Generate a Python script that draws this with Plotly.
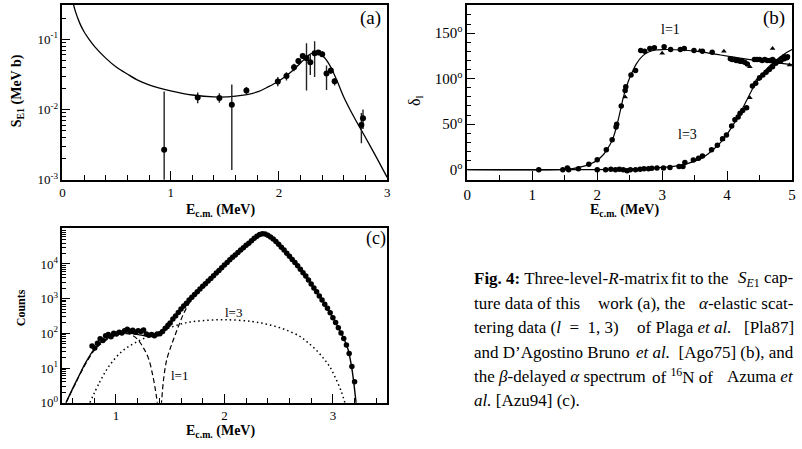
import plotly.graph_objects as go

W, H = 802, 449
FONT = "Liberation Serif, Times New Roman, serif"

# ---------------- panel (a): S_E1 capture data ----------------
a_x = [0.94, 1.25, 1.45, 1.565, 1.70, 1.99, 2.07, 2.14, 2.18, 2.22, 2.255, 2.29,
       2.33, 2.365, 2.40, 2.44, 2.48, 2.515, 2.762, 2.777]
a_y = [0.00267, 0.0148, 0.0146, 0.0117, 0.0186, 0.0251, 0.030, 0.040, 0.049, 0.058,
       0.0536, 0.047, 0.0635, 0.065, 0.0615, 0.0325, 0.036, 0.0253, 0.0060, 0.0075]
a_hi = [0.018, 0.0175, 0.017, 0.0227, 0.021, 0.029, 0.034, 0.045, 0.054, 0.063,
        0.088, 0.062, 0.094, 0.070, 0.067, 0.0423, 0.040, 0.028, 0.0089, 0.010]
a_lo = [0.0007, 0.0123, 0.0125, 0.00138, 0.0165, 0.0215, 0.026, 0.035, 0.044, 0.053,
        0.0186, 0.031, 0.029, 0.060, 0.056, 0.019, 0.032, 0.022, 0.0033, 0.0053]
a_fit_x = [0.09, 0.12, 0.16, 0.20, 0.25, 0.30, 0.40, 0.50, 0.60, 0.70, 0.80, 1.00, 1.20,
           1.40, 1.60, 1.80, 1.90, 2.00, 2.10, 2.20, 2.28, 2.35, 2.42, 2.48, 2.54, 2.60,
           2.70, 2.80, 2.90, 3.00]
a_fit_y = [0.37, 0.25, 0.17, 0.128, 0.098, 0.078, 0.054, 0.040, 0.032, 0.026, 0.0225,
           0.0185, 0.0161, 0.0151, 0.0155, 0.0178, 0.021, 0.0255, 0.033, 0.046, 0.060,
           0.066, 0.055, 0.040, 0.025, 0.0150, 0.0075, 0.0040, 0.0021, 0.00108]

# ---------------- panel (b): phase shifts ----------------
b1_x = [1.10, 1.47, 1.54, 1.56, 1.71, 1.87, 2.00, 2.14, 2.23, 2.29, 2.30, 2.37, 2.43,
        2.44, 2.52, 2.59, 2.67, 2.73, 2.81, 2.88, 3.03, 3.13, 3.28, 3.34, 3.49, 3.62,
        3.77, 4.05, 4.08, 4.11, 4.14, 4.17, 4.20, 4.23, 4.27, 4.31, 4.42, 4.46, 4.50,
        4.54, 4.58, 4.62, 4.66, 4.70, 4.73, 4.80, 4.84, 4.88, 4.92]
b1_y = [0, 0, 2, 0, 1, 6, 11, 22, 33, 47, 50, 70, 87, 91, 104, 109, 131, 130, 133,
        134, 135, 132, 132, 133, 131, 130, 129, 122, 121, 121, 120, 120, 119, 119, 118,
        116, 121, 121, 121, 120, 121, 120, 120, 121, 119, 119, 122, 124, 123]
b1t_x = [2.43, 3.00, 3.58, 3.95, 4.35, 4.70, 4.96]
b1t_y = [80, 128, 131, 130, 113, 133, 115]
b3_x = [2.00, 2.13, 2.21, 2.28, 2.34, 2.40, 2.46, 2.51, 2.59, 2.66, 2.72, 2.79, 2.84,
        2.92, 3.02, 3.12, 3.26, 3.32, 3.35, 3.48, 3.56, 3.62, 3.76, 3.85, 3.93, 3.99,
        4.07, 4.12, 4.17, 4.20, 4.24, 4.30, 4.39, 4.44, 4.50, 4.55, 4.60, 4.65, 4.70,
        4.75, 4.83, 4.88, 4.93]
b3_y = [0, 0, 0.5, 0, 0.5, 0, -1, 0, 0, 0.5, 1, 1, 1.5, 2, 2, 2.5, 3.6, 3.6, 8, 10.8,
        12.6, 15, 22, 27, 34, 38, 48, 55, 58, 62, 65, 68, 92, 95, 101, 104, 107, 110,
        113, 117, 120, 122, 124]
b3t_x = [3.93, 4.35, 4.47]
b3t_y = [33, 79, 99]
b1_fit_x = [0, 1.4, 1.6, 1.8, 1.9, 2.0, 2.1, 2.2, 2.25, 2.3, 2.35, 2.4, 2.45, 2.5, 2.55,
            2.6, 2.7, 2.8, 2.9, 3.0, 3.3, 3.6, 3.9, 4.2, 4.5, 4.8, 5.0]
b1_fit_y = [0, 0, 1, 4, 6.5, 10.5, 17, 28, 36, 48, 63, 79, 91, 101, 109, 116, 125,
            129.5, 131.5, 132, 131.5, 129.5, 126, 122.5, 119.5, 117, 115.5]
b3_fit_x = [0, 1.5, 2.0, 2.5, 2.8, 3.0, 3.2, 3.4, 3.6, 3.7, 3.8, 3.9, 4.0, 4.1, 4.2,
            4.3, 4.4, 4.5, 4.6, 4.7, 4.8, 4.9, 5.0]
b3_fit_y = [0, 0, 0.2, 0.8, 1.5, 2.5, 4, 7, 12.5, 17, 23, 30, 39, 50, 62, 76, 90, 101,
            110, 117, 123, 128, 132]

# ---------------- panel (c): beta-delayed alpha spectrum ----------------
c_x = [0.780, 0.805, 0.830, 0.855, 0.880, 0.905, 0.930, 0.955, 0.980, 1.005, 1.030,
       1.055, 1.080, 1.105, 1.130, 1.155, 1.180, 1.205, 1.230, 1.255, 1.280, 1.305,
       1.330, 1.355, 1.380, 1.405, 1.430, 1.455, 1.480,
       1.500, 1.525, 1.550, 1.575, 1.600, 1.625, 1.650, 1.675, 1.700, 1.725, 1.750,
       1.775, 1.800, 1.825, 1.850, 1.875, 1.900, 1.925, 1.950, 1.975, 2.000, 2.025,
       2.050, 2.075, 2.100, 2.125, 2.150, 2.175, 2.200, 2.225, 2.250, 2.275, 2.300,
       2.325, 2.350, 2.375, 2.400, 2.425, 2.450, 2.475, 2.500, 2.525, 2.550, 2.575,
       2.600, 2.625, 2.650, 2.675, 2.700, 2.725, 2.750, 2.775, 2.800, 2.825, 2.850,
       2.875, 2.900, 2.925, 2.950, 2.975, 3.000, 3.025, 3.050, 3.075, 3.100, 3.125,
       3.150, 3.175, 3.200]
c_y = [43, 38, 52, 70, 62, 85, 92, 80, 100, 95, 108, 102, 118, 132, 115, 122, 108, 118,
       112, 125, 95, 88, 92, 85, 95, 98, 112, 140, 170,
       200, 257, 316, 400, 500, 617, 741, 912, 1100, 1320, 1580, 1900, 2290, 2690, 3240,
       3800, 4570, 5500, 6460, 7760, 9330, 11000, 13200, 15500, 18200, 21400, 25100,
       29500, 34700, 39800, 46800, 55000, 63100, 70800, 74100, 73300, 67600, 60300,
       52500, 44700, 37200, 30200, 25100, 20400, 16600, 13500, 11000, 8910, 7080, 5620,
       4470, 3470, 2630, 2040, 1580, 1200, 912, 692, 525, 389, 282, 204, 145, 102, 71,
       46, 26, 11, 4]
c_fit_x = [0.54, 0.60, 0.66, 0.72, 0.80, 0.88, 0.97, 1.09, 1.18, 1.30, 1.40, 1.46, 1.50,
           1.55, 1.60, 1.69, 1.79, 1.90, 2.00, 2.10, 2.20, 2.28, 2.34, 2.38, 2.42, 2.50,
           2.60, 2.70, 2.80, 2.90, 3.00, 3.05, 3.10, 3.14, 3.17, 3.19, 3.215]
c_fit_y = [1, 2.5, 6, 14, 35, 60, 85, 103, 95, 83, 90, 135, 190, 310, 500, 1000, 2100,
           4700, 9300, 18200, 34700, 57500, 72400, 72400, 61700, 37200, 16600, 7080,
           2630, 912, 282, 145, 71, 34, 12, 4.5, 0.9]
c_l1a_x = [0.54, 0.60, 0.66, 0.72, 0.80, 0.88, 0.97, 1.05, 1.10, 1.15, 1.20, 1.25, 1.30,
           1.34, 1.37, 1.39]
c_l1a_y = [1, 2.4, 5.8, 13, 32, 55, 80, 96, 98, 88, 67, 40, 19, 6, 1.8, 0.6]
c_l1b_x = [1.41, 1.42, 1.44, 1.47, 1.52, 1.565, 1.626, 1.70]
c_l1b_y = [0.5, 1, 4.9, 18, 54, 128, 380, 1000]
c_l3_x = [0.76, 0.85, 0.94, 1.06, 1.18, 1.34, 1.49, 1.64, 1.79, 2.0, 2.25, 2.4, 2.56,
          2.7, 2.77, 2.85, 2.92, 2.97, 3.02, 3.08, 3.11]
c_l3_y = [1, 3.9, 11.7, 31, 54, 92, 143, 200, 230, 246, 220, 180, 128, 80, 54, 32, 18,
          11, 5.5, 2, 1]

# ---------------- figure ----------------
fig = go.Figure()
blk = "black"

plus = [h - v for h, v in zip(a_hi, a_y)]
minus = [v - l for v, l in zip(a_y, a_lo)]
fig.add_trace(go.Scatter(x=a_fit_x, y=a_fit_y, mode="lines",
                         line=dict(color=blk, width=1.3, shape="spline", smoothing=0.8),
                         xaxis="x", yaxis="y"))
fig.add_trace(go.Scatter(x=a_x, y=a_y, mode="markers",
                         marker=dict(color=blk, size=6),
                         error_y=dict(type="data", symmetric=False, array=plus,
                                      arrayminus=minus, width=0, thickness=1.4,
                                      color="#222"),
                         xaxis="x", yaxis="y"))

for fx, fy in [(b1_fit_x, b1_fit_y), (b3_fit_x, b3_fit_y)]:
    fig.add_trace(go.Scatter(x=fx, y=fy, mode="lines",
                             line=dict(color=blk, width=1.2, shape="spline", smoothing=0.7),
                             xaxis="x2", yaxis="y2"))
for bx, by in [(b1_x, b1_y), (b3_x, b3_y)]:
    fig.add_trace(go.Scatter(x=bx, y=by, mode="markers",
                             marker=dict(color=blk, size=5.5),
                             xaxis="x2", yaxis="y2"))
for bx, by in [(b1t_x, b1t_y), (b3t_x, b3t_y)]:
    fig.add_trace(go.Scatter(x=bx, y=by, mode="markers",
                             marker=dict(color=blk, size=5, symbol="triangle-up"),
                             xaxis="x2", yaxis="y2"))

fig.add_trace(go.Scatter(x=c_l3_x, y=c_l3_y, mode="lines",
                         line=dict(color=blk, width=1.5, dash="1.5px,3px", shape="spline"),
                         xaxis="x3", yaxis="y3"))
for lx, ly in [(c_l1a_x, c_l1a_y), (c_l1b_x, c_l1b_y)]:
    fig.add_trace(go.Scatter(x=lx, y=ly, mode="lines",
                             line=dict(color=blk, width=1.2, dash="5px,3px", shape="spline"),
                             xaxis="x3", yaxis="y3"))
fig.add_trace(go.Scatter(x=c_fit_x, y=c_fit_y, mode="lines",
                         line=dict(color=blk, width=1.4, shape="spline", smoothing=0.8),
                         xaxis="x3", yaxis="y3"))
fig.add_trace(go.Scatter(x=c_x, y=c_y, mode="markers",
                         marker=dict(color=blk, size=5.5),
                         xaxis="x3", yaxis="y3"))


def dx(p):
    return p / W


def dy(p):
    return 1 - p / H


def ax(**kw):
    base = dict(showline=True, linecolor=blk, linewidth=1.6, mirror=True,
                ticks="inside", tickcolor=blk, tickwidth=1.2, showgrid=False,
                zeroline=False, tickfont=dict(family=FONT, size=13, color=blk))
    base.update(kw)
    return base


a_minor = [m * 10.0 ** e for e in (-3, -2, -1) for m in range(2, 10)]
c_minor = [m * 10.0 ** e for e in (0, 1, 2, 3, 4) for m in range(2, 10)]

fig.update_layout(
    width=W, height=H, margin=dict(l=0, r=0, t=0, b=0),
    paper_bgcolor="white", plot_bgcolor="white", showlegend=False,
    font=dict(family=FONT, color=blk),
    xaxis=ax(domain=[dx(59), dx(387)], anchor="y", range=[0, 3], dtick=1, ticklen=9,
             minor=dict(ticks="inside", dtick=0.2, ticklen=5, tickcolor=blk, tickwidth=1.2)),
    yaxis=ax(domain=[dy(183), dy(5)], anchor="x", type="log", range=[-3, -0.51],
             tickmode="array", tickvals=[0.001, 0.01, 0.1],
             ticktext=["10<sup>-3</sup>", "10<sup>-2</sup>", "10<sup>-1</sup>"], ticklen=8,
             minor=dict(ticks="inside", tickmode="array", tickvals=a_minor, ticklen=4,
                        tickcolor=blk, tickwidth=1)),
    xaxis2=ax(domain=[dx(468), dx(796)], anchor="y2", range=[0, 5], dtick=1, ticklen=9,
              tickfont=dict(family=FONT, size=15, color=blk),
              minor=dict(ticks="inside", dtick=0.5, ticklen=5, tickcolor=blk, tickwidth=1.2)),
    yaxis2=ax(domain=[dy(183), dy(5)], anchor="x2", range=[-11, 181],
              tickmode="array", tickvals=[0, 50, 100, 150],
              ticktext=["0<sup>o</sup>", "50<sup>o</sup>", "100<sup>o</sup>", "150<sup>o</sup>"],
              tickfont=dict(family=FONT, size=15, color=blk), ticklen=8,
              minor=dict(ticks="inside", dtick=10, ticklen=4, tickcolor=blk, tickwidth=1)),
    xaxis3=ax(domain=[dx(59), dx(387)], anchor="y3", range=[0.507, 3.5], dtick=1, tick0=0,
              ticklen=9,
              minor=dict(ticks="inside", dtick=0.2, tick0=0, ticklen=5, tickcolor=blk,
                         tickwidth=1.2)),
    yaxis3=ax(domain=[dy(410), dy(232)], anchor="x3", type="log", range=[0, 5.04],
              tickmode="array", tickvals=[1, 10, 100, 1000, 10000],
              ticktext=["10<sup>0</sup>", "10<sup>1</sup>", "10<sup>2</sup>",
                        "10<sup>3</sup>", "10<sup>4</sup>"], ticklen=8,
              minor=dict(ticks="inside", tickmode="array", tickvals=c_minor, ticklen=4,
                         tickcolor=blk, tickwidth=1)),
)

ann = []


def txt(x, y, t, size=14, angle=0, xanchor="center", yanchor="middle"):
    ann.append(dict(x=dx(x), y=dy(y), xref="paper", yref="paper", text=t,
                    showarrow=False, textangle=angle, xanchor=xanchor, yanchor=yanchor,
                    font=dict(family=FONT, size=size, color=blk)))


# axis titles
txt(219, 214, "<b>E<sub>c.m.</sub> (MeV)</b>", 14)
txt(14, 92, "<b>S<sub>E1</sub> (MeV b)</b>", 14, angle=-90)
txt(627, 214, "<b>E<sub>c.m.</sub> (MeV)</b>", 14)
txt(415, 102, "δ<sub>l</sub>", 16, angle=-90)
txt(219, 439, "<b>E<sub>c.m.</sub> (MeV)</b>", 14)
txt(18, 313, "<b>Counts</b>", 12, angle=-90)
# panel tags
txt(370, 18, "(a)", 19)
txt(778, 18, "(b)", 19)
txt(376, 243, "(c)", 18)
# curve labels
txt(673, 30, "l=1", 14)
txt(690, 137, "l=3", 14)
txt(232, 318, "l=3", 13)
txt(177, 382, "l=1", 13)

# caption, justified by hand: (left chunk, middle chunk, middle centre px, right chunk)
cap = [
    ("<b>Fig. 4:</b> Three-level-<i>R</i>-matrix", "fit to the", 703,
     "<i>S</i><sub><i>E</i>1</sub> cap-"),
    ("ture data of this", "work (a), the", 644, "<i>α</i>-elastic scat-"),
    ("tering data (<i>l</i>  =  1, 3)", "of Plaga <i>et al.</i>", 687, "[Pla87]"),
    ("and D’Agostino Bruno", "", 0, "<i>et al.</i>  [Ago75] (b), and"),
    ("the <i>β</i>-delayed <i>α</i> spectrum", "of <sup>16</sup>N of", 685, "Azuma <i>et</i>"),
    ("<i>al.</i> [Azu94] (c).", "", 0, ""),
]
for i, (left, mid, mx, right) in enumerate(cap):
    yy = 284 + 24.8 * i
    txt(473, yy, left, 17, xanchor="left")
    if mid:
        txt(mx, yy, mid, 17)
    if right:
        txt(800, yy, right, 17, xanchor="right")

fig.update_layout(annotations=ann)
fig.write_html("out.html")
